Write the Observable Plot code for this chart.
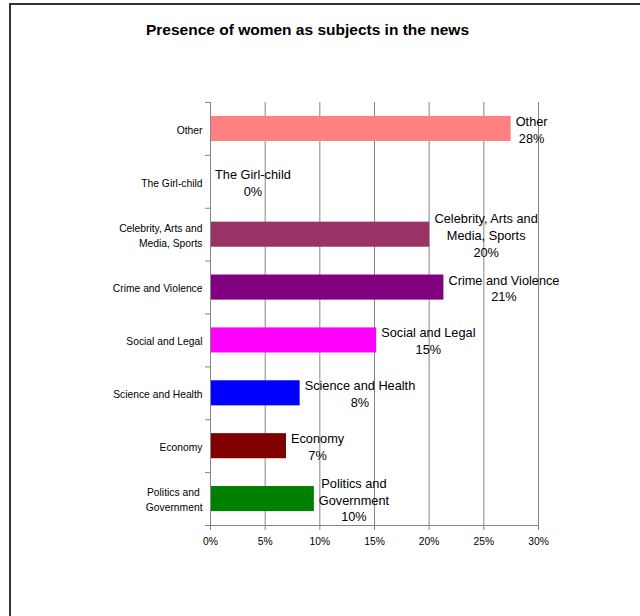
<!DOCTYPE html>
<html><head><meta charset="utf-8">
<script src="https://cdn.jsdelivr.net/npm/d3@7"></script>
<script src="https://cdn.jsdelivr.net/npm/@observablehq/plot@0.6"></script>
<style>
html,body{margin:0;padding:0;background:#fff;overflow:hidden}
#wrap{position:relative;width:640px;height:616px;overflow:hidden;font-family:Arial,"Liberation Sans",sans-serif}
#frame{position:absolute;left:9px;top:3px;width:700px;height:700px;border-left:2px solid #333;border-top:2px solid #333;box-sizing:border-box;pointer-events:none}
#title{position:absolute;left:0;top:20px;width:615px;text-align:center;font-weight:bold;font-size:15.5px;color:#000;line-height:20px}
#chart{position:absolute;left:0;top:60px}
</style></head><body>
<div id="wrap"><div id="frame"></div><div id="title">Presence of women as subjects in the news</div><div id="chart"></div></div>
<script>
const categories = ["Other","The Girl-child","Celebrity, Arts and Media, Sports","Crime and Violence","Social and Legal","Science and Health","Economy","Politics and Government"];
const axisLabels = ["Other","The Girl-child","Celebrity, Arts and\nMedia, Sports","Crime and Violence","Social and Legal","Science and Health","Economy","Politics and \nGovernment"];
const values = [0.275, 0, 0.2005, 0.2135, 0.152, 0.082, 0.0695, 0.095];
const colors = ["#FF8080","#FFFF00","#993366","#800080","#FF00FF","#0000FF","#800000","#008000"];
const valueNames = ["Other","The Girl-child","Celebrity, Arts and\nMedia, Sports","Crime and Violence","Social and Legal","Science and Health","Economy","Politics and\nGovernment"];
const pctLabels = ["28%","0%","20%","21%","15%","8%","7%","10%"];
const xTicks = [0,0.05,0.10,0.15,0.20,0.25,0.30];
const xTickLabels = ["0%","5%","10%","15%","20%","25%","30%"];

const W=640, H=556, mL=210, mR=102, mT=42, mB=91;
const plotW = W-mL-mR, plotH = H-mT-mB;
const step = plotH / categories.length;
const xMax = 0.30;
const pxPerUnit = plotW / xMax;
const tickLen = 5 / pxPerUnit;
const labelFont = 12.75, axisFont = 10.3;
const ctx = document.createElement("canvas").getContext("2d");
ctx.font = `${labelFont}px Arial, "Liberation Sans", sans-serif`;
const data = categories.map((c,i)=>({category:c, axisLabel: axisLabels[i], value: values[i], color: colors[i], label: valueNames[i]+"\n"+pctLabels[i]}));
data.forEach(d => {
  const w = Math.max(...d.label.split("\n").map(s=>ctx.measureText(s).width));
  d.labelX = d.value + (w/2 + 4.5)/pxPerUnit;
});
const last = categories.length - 1;
const gray = "#868686";
const chart = Plot.plot({
  width: W, height: H, marginLeft: mL, marginRight: mR, marginTop: mT, marginBottom: mB,
  style: {fontFamily: 'Arial, "Liberation Sans", sans-serif', color:"#000", background:"transparent", overflow:"visible"},
  x: {domain:[0,xMax], axis:null},
  y: {domain: categories, padding: 0, round: false, axis: null},
  color: {type:"identity"},
  marks: [
    Plot.ruleX(xTicks.slice(1), {stroke: gray}),
    Plot.barX(data, {x:"value", y:"category", fill:"color", insetTop: 13.9, insetBottom: 13.9}),
    Plot.ruleX([0], {stroke: gray}),
    Plot.ruleY(categories, {y: d=>d, x1: -tickLen, x2: (d,i)=> i===last ? xMax : 0, dy: step/2, stroke: gray}),
    Plot.ruleY([categories[0]], {y: d=>d, x1: -tickLen, x2: 0, dy: -step/2, stroke: gray}),
    Plot.axisX({ticks: xTicks, tickSize:5, tickPadding: 7, tickFormat: d => xTickLabels[xTicks.indexOf(d)], fontSize: axisFont, stroke: gray, fill:"#000", label:null}),
    Plot.text(data, {y:"category", frameAnchor:"left", text:"axisLabel", textAnchor:"end", dx:-8, fontSize:axisFont, lineHeight:1.45, fill:"#000"}),
    Plot.text(data, {x:"labelX", y:"category", text:"label", textAnchor:"middle", fontSize: labelFont, lineHeight: 1.33, fill:"#000"})
  ]
});
document.getElementById("chart").appendChild(chart);
</script>
</body></html>
